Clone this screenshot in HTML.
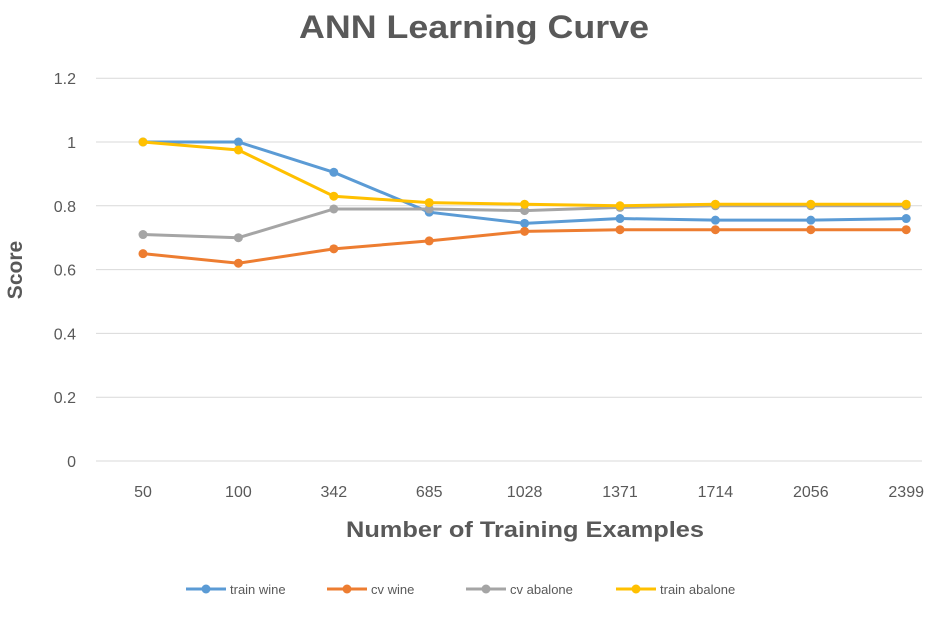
<!DOCTYPE html>
<html><head><meta charset="utf-8"><style>
html,body{margin:0;padding:0;background:#fff;}
svg{display:block;font-family:"Liberation Sans",sans-serif;}
</style></head><body>
<svg id="chart" width="935" height="620">
<text x="474" y="38" text-anchor="middle" font-size="32" font-weight="bold" fill="#595959" textLength="350" lengthAdjust="spacingAndGlyphs">ANN Learning Curve</text>
<text x="22" y="270" text-anchor="middle" font-size="21" font-weight="bold" fill="#595959" transform="rotate(-90 22 270)">Score</text>
<text x="525" y="537" text-anchor="middle" font-size="22" font-weight="bold" fill="#595959" textLength="358" lengthAdjust="spacingAndGlyphs">Number of Training Examples</text>
<g id="grid"></g><g id="series"></g><g id="legend"></g>
</svg>
<script>
const categories=["50","100","342","685","1028","1371","1714","2056","2399"];
const yTicks=[0,0.2,0.4,0.6,0.8,1,1.2];
const seriesNames=["train wine","cv wine","cv abalone","train abalone"];
const seriesColors=["#5B9BD5","#ED7D31","#A5A5A5","#FFC000"];
const trainWine=[1,1,0.905,0.78,0.745,0.76,0.755,0.755,0.76];
const cvWine=[0.65,0.62,0.665,0.69,0.72,0.725,0.725,0.725,0.725];
const cvAbalone=[0.71,0.70,0.79,0.79,0.785,0.795,0.80,0.80,0.80];
const trainAbalone=[1,0.975,0.83,0.81,0.805,0.80,0.805,0.805,0.805];
const allSeries=[trainWine,cvWine,cvAbalone,trainAbalone];
const NS="http://www.w3.org/2000/svg";
const x=i=>143+i*95.4;
const y=v=>461-v*319;
function mk(tag,attrs,parent){const e=document.createElementNS(NS,tag);for(const k in attrs)e.setAttribute(k,attrs[k]);parent.appendChild(e);return e;}
const grid=document.getElementById('grid');
yTicks.forEach(t=>{
  const l=mk('line',{x1:96,x2:922,y1:y(t),y2:y(t),stroke:'#D9D9D9','stroke-width':1},grid);
  
  
  const tx=mk('text',{x:76,y:y(t)+6,'text-anchor':'end','font-size':16,fill:'#595959'},grid);
  tx.textContent=String(t);
  
  
});
categories.forEach((c,i)=>{
  const tx=mk('text',{x:x(i),y:497,'text-anchor':'middle','font-size':16,fill:'#595959'},grid);
  tx.textContent=c;
  
  
});
const sg=document.getElementById('series');
allSeries.forEach((s,si)=>{
  const g=mk('g',{},sg);
  
  
  const p=mk('polyline',{points:s.map((v,i)=>x(i)+','+y(v)).join(' '),fill:'none',stroke:seriesColors[si],'stroke-width':3},g);
  
  
  s.forEach((v,i)=>{
    const c=mk('circle',{cx:x(i),cy:y(v),r:4.5,fill:seriesColors[si]},g);
    
    
  });
});
const lg=document.getElementById('legend');
const lx=[186,327,466,616];
seriesNames.forEach((n,i)=>{
  const g=mk('g',{},lg);
  
  
  mk('line',{x1:lx[i],x2:lx[i]+40,y1:589,y2:589,stroke:seriesColors[i],'stroke-width':3},g);
  mk('circle',{cx:lx[i]+20,cy:589,r:4.5,fill:seriesColors[i]},g);
  const t=mk('text',{x:lx[i]+44,y:594,'font-size':13,fill:'#595959'},g);
  t.textContent=n;
});
</script>
</body></html>
